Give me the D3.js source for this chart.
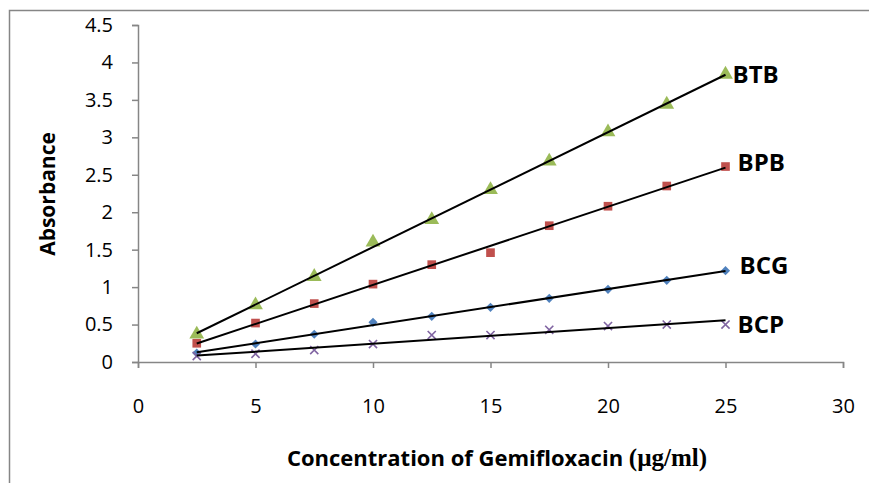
<!DOCTYPE html>
<html>
<head>
<meta charset="utf-8">
<script src="https://cdn.jsdelivr.net/npm/d3@7"></script>
<style>
  body { margin: 0; background: #fff; }
  svg { display: block; }
</style>
</head>
<body>
<div id="viz"></div>
<script>
// concentrations (µg/ml)
const conc = [2.5, 5, 7.5, 10, 12.5, 15, 17.5, 20, 22.5, 25];
// absorbance for each dye
const btb = [0.37, 0.76, 1.14, 1.60, 1.90, 2.30, 2.68, 3.07, 3.44, 3.84];
const bpb = [0.25, 0.52, 0.78, 1.04, 1.30, 1.46, 1.82, 2.08, 2.35, 2.61];
const bcg = [0.12, 0.24, 0.37, 0.53, 0.61, 0.73, 0.85, 0.97, 1.09, 1.22];
const bcp = [0.08, 0.11, 0.16, 0.24, 0.36, 0.36, 0.43, 0.48, 0.50, 0.50];
const seriesNames = ["BTB", "BPB", "BCG", "BCP"];
const xTicks = [0, 5, 10, 15, 20, 25, 30];
const yTicks = [0, 0.5, 1, 1.5, 2, 2.5, 3, 3.5, 4, 4.5];

const width = 869;
const height = 483;
const margin = { left: 138, right: 26, top: 25, bottom: 121 };

const svg = d3
  .select("#viz")
  .append("svg")
  .attr("width", width)
  .attr("height", height);

// chart outer border
svg
  .append("rect")
  .attr("x", 9.5)
  .attr("y", 10.5)
  .attr("width", 900)
  .attr("height", 500)
  .attr("fill", "none")
  .attr("stroke", "#868686")
  .attr("stroke-width", 1.5);

const x = d3.scaleLinear().domain([0, 30]).range([margin.left, width - margin.right]);
const y = d3.scaleLinear().domain([0, 4.5]).range([height - margin.bottom, margin.top]);

const font = "'Open Sans', Lato, sans-serif";

// axes
const xAxis = svg
  .append("g")
  .attr("transform", `translate(0,${y(0)})`)
  .call(d3.axisBottom(x).tickValues(xTicks).tickSize(6).tickPadding(31).tickFormat(d3.format("")));
const yAxis = svg
  .append("g")
  .attr("transform", `translate(${x(0)},0)`)
  .call(d3.axisLeft(y).tickValues(yTicks).tickSize(6).tickPadding(19).tickFormat(d3.format("")));

[xAxis, yAxis].forEach((g) => {
  g.select(".domain").attr("stroke", "#868686").attr("stroke-width", 1.5);
  g.selectAll(".tick line").attr("stroke", "#868686").attr("stroke-width", 1.5);
  g.selectAll(".tick text")
    .attr("fill", "#000")
    .style("font-family", font)
    .style("font-size", "20px");
});

// series setup
const series = [
  { name: seriesNames[0], values: btb, color: "#9BBB59", symbol: d3.symbolTriangle, size: 95, rot: 0 },
  { name: seriesNames[1], values: bpb, color: "#C0504D", symbol: d3.symbolSquare, size: 75, rot: 0 },
  { name: seriesNames[2], values: bcg, color: "#4F81BD", symbol: d3.symbolSquare, size: 42, rot: 45 },
  { name: seriesNames[3], values: bcp, color: "#8064A2", symbol: d3.symbolX, size: 45, rot: 0 },
];

// least squares fit
function linFit(xs, ys) {
  const mx = d3.mean(xs);
  const my = d3.mean(ys);
  const sxy = d3.sum(xs, (v, i) => (v - mx) * (ys[i] - my));
  const sxx = d3.sum(xs, (v) => (v - mx) * (v - mx));
  const slope = sxy / sxx;
  return { slope, intercept: my - slope * mx };
}

// markers
series.forEach((s) => {
  const isX = s.symbol === d3.symbolX;
  svg
    .append("g")
    .selectAll("path")
    .data(conc)
    .enter()
    .append("path")
    .attr("d", d3.symbol().type(s.symbol).size(s.size))
    .attr("transform", (d, i) => `translate(${x(d)},${y(s.values[i])}) rotate(${s.rot})`)
    .attr("fill", isX ? "none" : s.color)
    .attr("stroke", isX ? s.color : "none")
    .attr("stroke-width", 1.6);
});

// trend lines
const line = d3
  .line()
  .x((d) => x(d[0]))
  .y((d) => y(d[1]));
series.forEach((s) => {
  const fit = linFit(conc, s.values);
  const x0 = conc[0];
  const x1 = conc[conc.length - 1];
  svg
    .append("path")
    .datum([
      [x0, fit.intercept + fit.slope * x0],
      [x1, fit.intercept + fit.slope * x1],
    ])
    .attr("d", line)
    .attr("fill", "none")
    .attr("stroke", "#000")
    .attr("stroke-width", 2);
});

// series labels (offset from last point, baseline in data units)
const labelPos = [
  { dx: 7, y: 3.73 },
  { dx: 12, y: 2.55 },
  { dx: 14, y: 1.17 },
  { dx: 12, y: 0.39 },
];
svg
  .selectAll("text.series-label")
  .data(series)
  .enter()
  .append("text")
  .classed("series-label", true)
  .text((d) => d.name)
  .attr("x", (d, i) => x(25) + labelPos[i].dx)
  .attr("y", (d, i) => y(labelPos[i].y))
  .style("font-family", font)
  .style("font-weight", "bold")
  .style("font-size", "24px");

// axis titles
const xTitle = svg
  .append("text")
  .attr("x", 497)
  .attr("y", 466)
  .attr("text-anchor", "middle")
  .style("font-family", font)
  .style("font-weight", "bold")
  .style("font-size", "22px");
xTitle.append("tspan").text("Concentration of Gemifloxacin ");
xTitle
  .append("tspan")
  .text("(µg/ml)")
  .style("font-family", "'Liberation Serif', serif")
  .style("font-size", "25px");

svg
  .append("text")
  .attr("transform", `translate(55,194) rotate(-90)`)
  .attr("text-anchor", "middle")
  .text("Absorbance")
  .style("font-family", font)
  .style("font-weight", "bold")
  .style("font-size", "21px");
</script>
</body>
</html>
